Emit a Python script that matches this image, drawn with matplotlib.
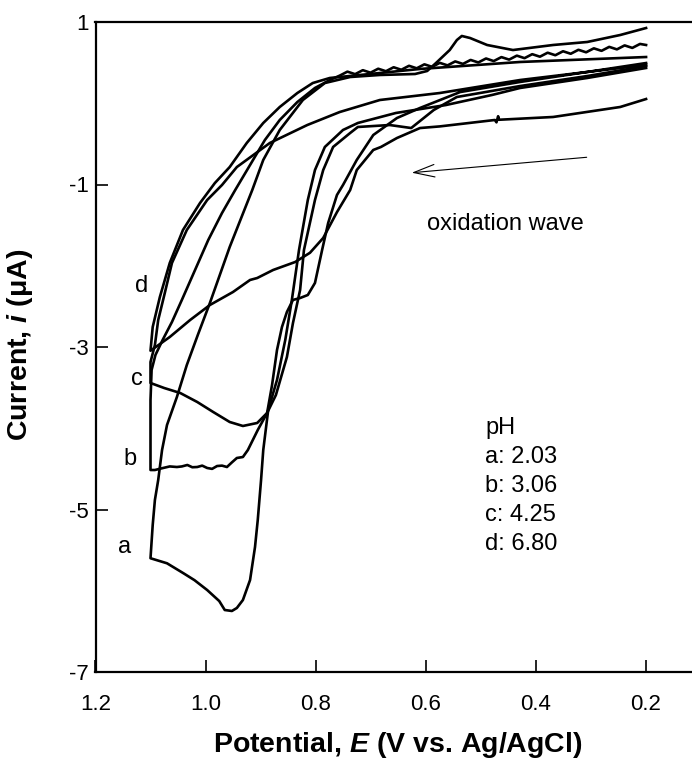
import matplotlib
matplotlib.use("Agg")
import matplotlib.pyplot as plt

plt.rcParams['font.family'] = ['Liberation Sans', 'DejaVu Sans']
plt.rcParams['mathtext.fontset'] = 'custom'
plt.rcParams['mathtext.it'] = 'Liberation Sans:italic:bold'
plt.rcParams['mathtext.bf'] = 'Liberation Sans:bold'
plt.rcParams['mathtext.rm'] = 'Liberation Sans:bold'

# ---------------- data (E in V, i in uA) ----------------
# curve a, pH 2.03 (forward scan then reverse scan)
E_a = [0.199, 0.306, 0.428, 0.479, 0.563, 0.654, 0.723, 0.750, 0.783, 0.801,
       0.814, 0.830, 0.843, 0.855, 0.870, 0.886, 0.895, 0.899, 0.905, 0.910,
       0.919, 0.932, 0.943, 0.952, 0.965, 0.975, 0.997, 1.020, 1.040, 1.070,
       1.100,
       1.096, 1.092, 1.086, 1.079, 1.070, 1.052, 1.034, 1.014, 0.992, 0.956,
       0.915, 0.895, 0.865, 0.823, 0.783, 0.737, 0.683, 0.619, 0.597, 0.581,
       0.556, 0.543, 0.534, 0.519, 0.488, 0.441, 0.368, 0.306, 0.246, 0.199]
I_a = [0.434, 0.311, 0.188, 0.102, -0.022, -0.120, -0.243, -0.329, -0.538, -0.822,
       -1.191, -1.806, -2.421, -2.914, -3.406, -3.775, -4.268, -4.637, -5.129, -5.462,
       -5.868, -6.114, -6.212, -6.249, -6.237, -6.127, -5.991, -5.870, -5.785, -5.662,
       -5.600,
       -5.191, -4.883, -4.637, -4.268, -3.960, -3.615, -3.222, -2.852, -2.458, -1.769,
       -1.068, -0.698, -0.329, 0.040, 0.249, 0.323, 0.348, 0.360, 0.397, 0.495,
       0.655, 0.778, 0.828, 0.803, 0.717, 0.655, 0.717, 0.754, 0.840, 0.926]

# curve b, pH 3.06
E_b = [0.199, 0.306, 0.428, 0.501, 0.543, 0.585, 0.626, 0.665, 0.723, 0.737,
       0.768, 0.786, 0.801, 0.821, 0.828, 0.841, 0.852, 0.872, 0.888, 0.905,
       0.914, 0.923, 0.932, 0.943, 0.952, 0.961, 0.970, 0.979, 0.988, 0.997,
       1.006, 1.015, 1.024, 1.033, 1.043, 1.052, 1.065, 1.077, 1.092, 1.100,
       1.100, 1.098, 1.091, 1.078, 1.061, 1.043, 1.019, 0.995, 0.970, 0.946,
       0.919, 0.892, 0.865, 0.833, 0.801, 0.774, 0.756,
       0.742, 0.728, 0.714, 0.700, 0.686, 0.672, 0.658, 0.644, 0.630, 0.616,
       0.602, 0.588, 0.574, 0.560, 0.546, 0.532, 0.518, 0.504, 0.490, 0.476,
       0.462, 0.448, 0.434, 0.420, 0.406, 0.392, 0.378, 0.364, 0.350, 0.336,
       0.322, 0.308, 0.294, 0.280, 0.266, 0.252, 0.238, 0.224, 0.210, 0.199]
I_b = [0.458, 0.335, 0.212, 0.126, 0.077, -0.083, -0.305, -0.268, -0.292, -0.366,
       -0.538, -0.822, -1.191, -1.806, -2.298, -2.705, -3.123, -3.591, -3.812, -4.022,
       -4.145, -4.268, -4.354, -4.366, -4.420, -4.477, -4.460, -4.465, -4.500, -4.489,
       -4.460, -4.477, -4.480, -4.452, -4.470, -4.477, -4.470, -4.489, -4.514, -4.514,
       -3.652, -3.283, -3.098, -2.914, -2.692, -2.421, -2.052, -1.683, -1.351, -1.068,
       -0.760, -0.452, -0.206, 0.015, 0.188, 0.286, 0.340,
       0.389, 0.358, 0.407, 0.376, 0.425, 0.394, 0.443, 0.412, 0.461, 0.430,
       0.479, 0.448, 0.497, 0.466, 0.515, 0.484, 0.533, 0.502, 0.551, 0.519,
       0.568, 0.537, 0.586, 0.555, 0.604, 0.573, 0.622, 0.591, 0.640, 0.609,
       0.658, 0.627, 0.676, 0.645, 0.694, 0.663, 0.712, 0.681, 0.730, 0.717]

# curve c, pH 4.25
E_c = [0.199, 0.306, 0.428, 0.537, 0.610, 0.652, 0.695, 0.725, 0.750, 0.761,
       0.777, 0.788, 0.801, 0.814, 0.828, 0.841, 0.852, 0.861, 0.870, 0.879,
       0.888, 0.906, 0.932, 0.956, 0.986, 1.015, 1.046, 1.075, 1.100,
       1.100, 1.092, 1.086, 1.074, 1.061, 1.034, 0.997, 0.970, 0.943, 0.883,
       0.815, 0.756, 0.683, 0.574, 0.428, 0.306, 0.199]
I_c = [0.495, 0.385, 0.262, 0.138, -0.058, -0.182, -0.391, -0.698, -1.006, -1.129,
       -1.474, -1.806, -2.212, -2.360, -2.397, -2.421, -2.569, -2.754, -3.037, -3.468,
       -3.812, -3.935, -3.972, -3.923, -3.800, -3.677, -3.566, -3.505, -3.443,
       -3.185, -2.975, -2.668, -2.335, -1.966, -1.560, -1.191, -1.006, -0.785, -0.489,
       -0.268, -0.108, 0.040, 0.126, 0.286, 0.385, 0.471]

# curve d, pH 6.80
E_d = [0.199, 0.246, 0.368, 0.466, 0.468, 0.471, 0.474, 0.574, 0.610, 0.652,
       0.681, 0.695, 0.710, 0.725, 0.737, 0.761, 0.786, 0.810, 0.837, 0.877,
       0.906, 0.919, 0.950, 0.992, 1.028, 1.065, 1.100,
       1.096, 1.083, 1.065, 1.041, 1.010, 0.983, 0.956, 0.925, 0.895, 0.865,
       0.833, 0.805, 0.774, 0.701, 0.610, 0.428, 0.199]
I_d = [0.052, -0.046, -0.169, -0.203, -0.160, -0.235, -0.206, -0.285, -0.305, -0.428,
       -0.538, -0.575, -0.698, -0.822, -1.068, -1.340, -1.658, -1.840, -1.954, -2.052,
       -2.151, -2.175, -2.323, -2.483, -2.668, -2.877, -3.046,
       -2.754, -2.385, -1.966, -1.560, -1.228, -0.982, -0.785, -0.489, -0.243, -0.046,
       0.126, 0.249, 0.311, 0.360, 0.422, 0.508, 0.569]

curve_letters = ['a', 'b', 'c', 'd']
letter_E = [1.148, 1.137, 1.124, 1.117]
letter_I = [-5.535, -4.452, -3.468, -2.323]
legend_lines = ['pH', 'a: 2.03', 'b: 3.06', 'c: 4.25', 'd: 6.80']
legend_I = [-4.071, -4.428, -4.785, -5.142, -5.499]
x_ticks = [1.2, 1.0, 0.8, 0.6, 0.4, 0.2]
y_ticks = [1, -1, -3, -5, -7]

# ---------------- figure ----------------
fig = plt.figure(figsize=(6.92, 7.69), dpi=100)
ax = fig.add_axes([95.5 / 692, 97 / 769, 1 - 95.5 / 692, 650 / 769])

for E, I in [(E_a, I_a), (E_b, I_b), (E_c, I_c), (E_d, I_d)]:
    ax.plot(E, I, color='black', lw=1.9, solid_joinstyle='round')

ax.set_xlim(1.2, 0.1155)
ax.set_ylim(-7, 1)
ax.set_xticks(x_ticks)
ax.set_xticklabels([f"{v:.1f}" for v in x_ticks])
ax.set_yticks(y_ticks)
ax.set_yticklabels([str(v) for v in y_ticks])

ax.spines['right'].set_visible(False)
for s in ['top', 'left', 'bottom']:
    ax.spines[s].set_linewidth(1.6)
ax.tick_params(axis='both', direction='in', length=8.5, width=1.2,
               labelsize=16, top=False, right=False)
ax.tick_params(axis='x', pad=16)
ax.tick_params(axis='y', pad=5)

ax.set_xlabel(r"Potential, $\it{E}$ (V vs. Ag/AgCl)", fontsize=20.5,
              fontweight='bold')
ax.xaxis.set_label_coords(0.507, -0.112)
ax.xaxis.label.set_va('center')
ax.set_ylabel(r"Current, $\it{i}$ (μA)", fontsize=20.5, fontweight='bold')
ax.yaxis.set_label_coords(-0.127, 0.503)
ax.yaxis.label.set_va('center')

for t, e, i in zip(curve_letters, letter_E, letter_I):
    ax.text(e, i, t, fontsize=17, ha='center', va='baseline')

for t, i in zip(legend_lines, legend_I):
    ax.text(0.4918, i, t, fontsize=17, ha='left', va='baseline')

ax.text(0.455, -1.56, 'oxidation wave', fontsize=17, ha='center', va='baseline')
ax.annotate('', xy=(0.625, -0.855), xytext=(0.307, -0.665),
            arrowprops=dict(arrowstyle='->, head_length=1.5, head_width=0.45',
                            lw=0.8, color='black', shrinkA=0, shrinkB=0))

fig.savefig('out.png', dpi=100)
